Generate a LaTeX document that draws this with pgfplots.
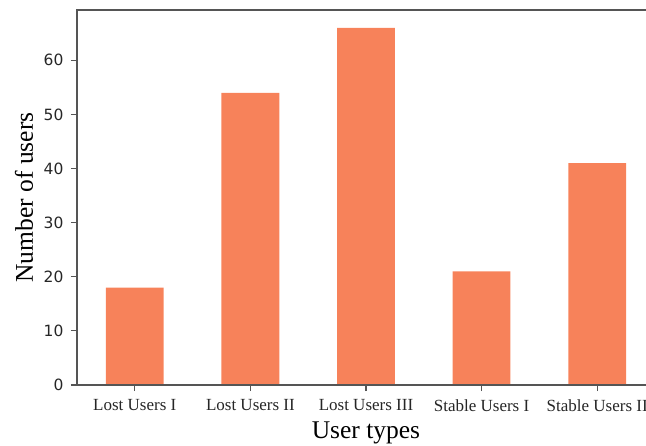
\documentclass[border=0pt]{standalone}
\usepackage{fontspec}
\setmainfont{Liberation Serif}
\newfontfamily\djv{DejaVu Sans}
\usepackage{pgfplots}
\pgfplotsset{compat=1.18}
\definecolor{barcoral}{RGB}{247,130,90}
\definecolor{spine}{RGB}{85,85,85}
\begin{document}
\begin{tikzpicture}
% the figure is trimmed on the right, cutting the right spine
\path[use as bounding box] (-77pt,-60pt) rectangle (569pt,385pt);
\clip (-77pt,-60pt) rectangle (569pt,385pt);
\begin{axis}[
  at={(0pt,0pt)}, anchor=south west,
  scale only axis,
  width=578pt, height=375pt,
  xmin=-0.5, xmax=4.5,
  ymin=0, ymax=69.3,
  xtick={0,1,2,3,4},
  xticklabels={Lost Users I, Lost Users II, Lost Users III, Stable Users I, Stable Users II},
  ytick={0,10,20,30,40,50,60},
  tick pos=left,
  tick align=outside,
  major tick length=6pt,
  axis line style={spine, line width=1.2pt},
  tick style={spine, line width=1.2pt},
  /pgf/number format/assume math mode=true,
  yticklabel style={font=\djv\fontsize{15.5}{18}\selectfont, text=black!85, xshift=-4pt},
  xticklabel style={font=\fontsize{17}{20}\selectfont, text=black!85, yshift=-5pt},
  every axis y label/.style={at={([xshift=-44pt]axis description cs:0,0.5)}, rotate=90, anchor=base, font=\fontsize{25.5}{30}\selectfont},
  every axis x label/.style={at={([yshift=-53pt]axis description cs:0.5,0)}, anchor=base, font=\fontsize{25.5}{30}\selectfont},
  xlabel={User types},
  ylabel={Number of users},
  axis on top,
]
\addplot[ybar, bar width=0.5, fill=barcoral, draw=none] coordinates {
  (0,18) (1,54) (2,66) (3,21) (4,41)
};
\end{axis}
\end{tikzpicture}
\end{document}
